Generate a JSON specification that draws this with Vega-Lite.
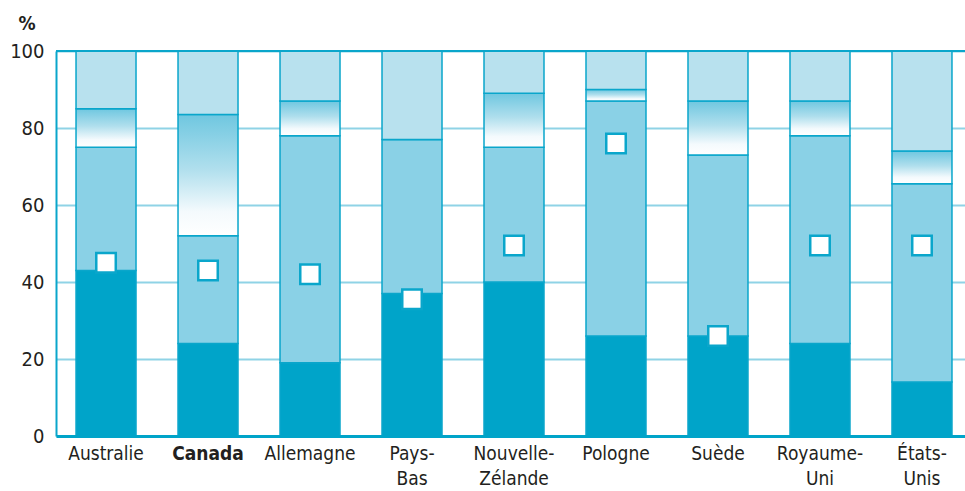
{
  "$schema": "https://vega.github.io/schema/vega-lite/v6.json",
  "width": 909,
  "height": 385,
  "autosize": {"type": "none"},
  "padding": {"left": 56, "top": 51, "right": 0, "bottom": 55},
  "background": "white",
  "config": {
    "view": {"stroke": null},
    "font": "Liberation Sans Narrow, DejaVu Sans Condensed, sans-serif"
  },
  "data": {
    "values": [
      {"country": "Australie", "dark": 43, "mid": 75, "grad": 85, "total": 100, "marker": 45},
      {"country": "Canada", "dark": 24, "mid": 52, "grad": 83.5, "total": 100, "marker": 43},
      {"country": "Allemagne", "dark": 19, "mid": 78, "grad": 87, "total": 100, "marker": 42},
      {"country": "Pays-Bas", "dark": 37, "mid": 77, "grad": 77, "total": 100, "marker": 35.5},
      {"country": "Nouvelle-Zélande", "dark": 40, "mid": 75, "grad": 89, "total": 100, "marker": 49.5},
      {"country": "Pologne", "dark": 26, "mid": 87, "grad": 90, "total": 100, "marker": 76},
      {"country": "Suède", "dark": 26, "mid": 73, "grad": 87, "total": 100, "marker": 26},
      {"country": "Royaume-Uni", "dark": 24, "mid": 78, "grad": 87, "total": 100, "marker": 49.5},
      {"country": "États-Unis", "dark": 14, "mid": 65.5, "grad": 74, "total": 100, "marker": 49.5}
    ]
  },
  "encoding": {
    "x": {
      "field": "country",
      "type": "nominal",
      "sort": null,
      "scale": {"paddingInner": 0.4118, "paddingOuter": 0.162, "align": 0.606},
      "axis": {
        "title": null,
        "labelAngle": 0,
        "tickSize": 0,
        "labelPadding": 8,
        "labelBaseline": "top",
        "labelFontSize": 19,
        "labelColor": "#231f20",
        "labelLineHeight": 25,
        "labelExpr": "split(replace(datum.label, '-', '-|'), '|')",
        "labelFontWeight": {"condition": {"test": "datum.value == 'Canada'", "value": "bold"}, "value": "normal"},
        "domainColor": "#00a4c9",
        "domainWidth": 3,
        "grid": false,
        "zindex": 1
      }
    }
  },
  "layer": [
    {
      "mark": {"type": "bar", "color": "#00a4c9", "stroke": "#0aa6cb", "strokeWidth": 1.5},
      "encoding": {
        "y": {
          "field": "dark",
          "type": "quantitative",
          "scale": {"domain": [0, 100], "nice": false},
          "axis": {
            "values": [0, 20, 40, 60, 80, 100],
            "title": "%",
            "titleAngle": 0,
            "titleAlign": "left",
            "titleBaseline": "middle",
            "titleX": -38,
            "titleY": -28,
            "titleFontSize": 19,
            "titleFontWeight": "bold",
            "titleColor": "#231f20",
            "tickSize": 0,
            "labelPadding": 12,
            "labelFontSize": 20,
            "labelColor": "#231f20",
            "domainColor": "#0aa6cb",
            "domainWidth": 2,
            "gridColor": "#8fd3e6",
            "gridWidth": 2
          }
        },
        "y2": {"datum": 0}
      }
    },
    {
      "mark": {"type": "bar", "color": "#8ad1e6", "stroke": "#0aa6cb", "strokeWidth": 1.5},
      "encoding": {
        "y": {"field": "dark", "type": "quantitative"},
        "y2": {"field": "mid"}
      }
    },
    {
      "mark": {
        "type": "bar",
        "stroke": "#0aa6cb",
        "strokeWidth": 1.5,
        "color": {
          "gradient": "linear",
          "x1": 0, "y1": 0, "x2": 0, "y2": 1,
          "stops": [
            {"offset": 0, "color": "#6fc7e0"},
            {"offset": 0.45, "color": "#b0dfed"},
            {"offset": 0.8, "color": "#f4fafd"},
            {"offset": 1, "color": "#ffffff"}
          ]
        }
      },
      "encoding": {
        "y": {"field": "mid", "type": "quantitative"},
        "y2": {"field": "grad"}
      }
    },
    {
      "mark": {"type": "bar", "color": "#b8e1ee", "stroke": "#0aa6cb", "strokeWidth": 1.5},
      "encoding": {
        "y": {"field": "grad", "type": "quantitative"},
        "y2": {"field": "total"}
      }
    },
    {
      "mark": {"type": "rule", "color": "#0aa6cb", "strokeWidth": 2},
      "encoding": {"y": {"datum": 100}, "x": null}
    },
    {
      "mark": {"type": "point", "shape": "square", "filled": true, "fill": "white", "stroke": "#0aa6cb", "strokeWidth": 2.5, "size": 380, "opacity": 1},
      "encoding": {
        "y": {"field": "marker", "type": "quantitative"}
      }
    }
  ]
}
